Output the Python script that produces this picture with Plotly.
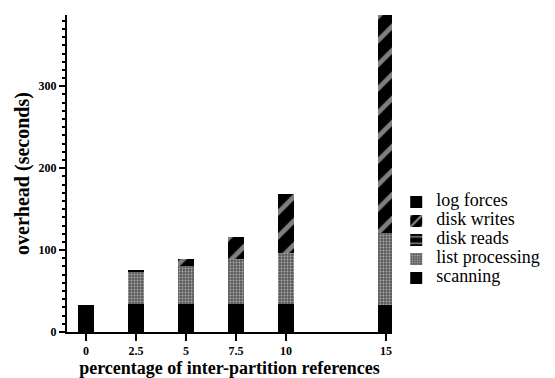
import plotly.graph_objects as go

# percentage of inter-partition references
pct = [0, 2.5, 5, 7.5, 10, 15]
pct_labels = ["0", "2.5", "5", "7.5", "10", "15"]

# overhead components (seconds), stacked bottom to top
scanning = [33, 34, 34, 34, 34, 33]
list_processing = [0, 39, 47, 55, 63, 88]
disk_reads = [0, 0, 0, 0, 0, 0]
disk_writes = [0, 0, 8, 27, 72, 267]
log_forces = [0, 3, 0, 0, 0, 0]

SERIF = "Times New Roman, Liberation Serif, serif"

fig = go.Figure()

def add(name, vals, pattern=None, color="black"):
    marker = dict(color=color, line=dict(width=0))
    if pattern:
        marker["pattern"] = pattern
    # legend labels are set larger than the legend's base font so rows stay tight
    label = f"<span style='font-size:18px'>{name}</span>"
    fig.add_trace(go.Bar(x=pct, y=vals, name=label, marker=marker, width=0.8))

add("scanning", scanning)
add("list processing", list_processing, color="#5c5c5c",
    pattern=dict(shape=".", fgcolor="white", bgcolor="#5c5c5c", size=3, solidity=0.3))
add("disk reads", disk_reads,
    pattern=dict(shape="-", fgcolor="white", bgcolor="black", size=8, solidity=0.25))
add("disk writes", disk_writes,
    pattern=dict(shape="/", fgcolor="white", bgcolor="black", size=17, solidity=0.28))
add("log forces", log_forces)

fig.update_layout(
    width=555, height=378,
    margin=dict(l=67, r=163, t=15, b=46, autoexpand=False),
    barmode="stack",
    plot_bgcolor="white", paper_bgcolor="white",
    font=dict(family=SERIF, color="black"),
    showlegend=True,
    legend=dict(
        traceorder="reversed",
        x=1.013, y=0.29, xanchor="left", yanchor="middle",
        font=dict(family=SERIF, size=11, color="black"),
        tracegroupgap=0, itemsizing="constant", itemwidth=30,
        bgcolor="rgba(0,0,0,0)",
    ),
    xaxis=dict(
        range=[-0.95, 15.3],
        automargin=False,
        tickvals=pct, ticktext=pct_labels,
        ticks="outside", ticklen=7, tickwidth=2, tickcolor="black",
        showline=True, linecolor="black", linewidth=2,
        showgrid=False, zeroline=False,
        tickfont=dict(family=SERIF, size=12, color="black", weight="bold"),
        title=dict(text="percentage of inter-partition references",
                   font=dict(family=SERIF, size=18, color="black", weight="bold"),
                   standoff=10),
    ),
    yaxis=dict(
        range=[0, 387],
        automargin=False,
        tickvals=[0, 100, 200, 300],
        ticks="outside", ticklen=6, tickwidth=2, tickcolor="black",
        minor=dict(dtick=10, ticks="outside", ticklen=3, tickwidth=1.5, tickcolor="black", showgrid=False),
        showline=True, linecolor="black", linewidth=2,
        showgrid=False, zeroline=False,
        tickfont=dict(family=SERIF, size=12, color="black", weight="bold"),
        title=dict(text="overhead (seconds)",
                   font=dict(family=SERIF, size=20, color="black", weight="bold"),
                   standoff=4),
    ),
)

fig.write_html("out.html")
